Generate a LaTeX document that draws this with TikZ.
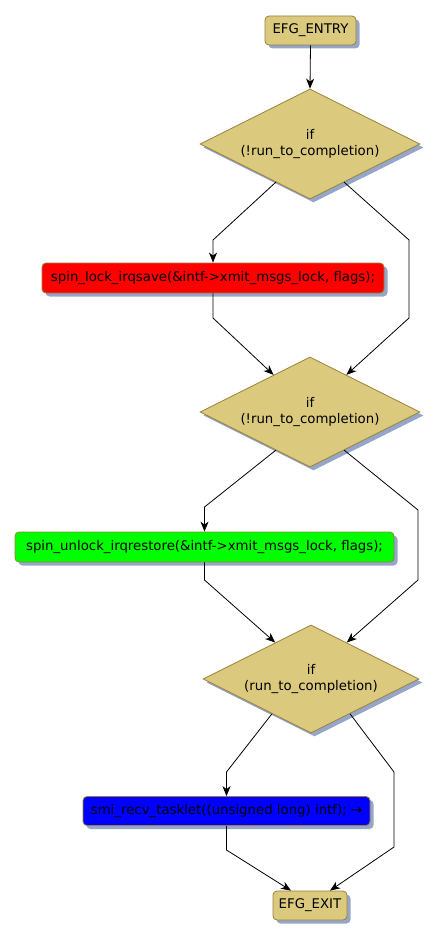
\documentclass[tikz,border=0pt]{standalone}
\usepackage{fontspec}
\setmainfont{DejaVu Sans}
\usetikzlibrary{shapes.geometric,shadows,arrows.meta,calc}
\definecolor{tanfill}{RGB}{219,201,126}
\definecolor{tanborder}{RGB}{152,128,56}
\definecolor{shadowblue}{RGB}{150,166,200}
\tikzset{
  txt/.style={font=\fontsize{13.3}{16.5}\selectfont},
  base/.style={draw=tanborder, line width=0.8pt, txt,
    drop shadow={shadow xshift=3.5pt, shadow yshift=-3.5pt, fill=shadowblue, opacity=1}},
  actbox/.style={base, rectangle, rounded corners=4pt, inner sep=2pt},
  decision/.style={base, diamond, fill=tanfill, inner sep=0pt},
  dlabel/.style={txt, align=center, inner sep=0pt},
  flow/.style={draw=black, line width=0.8pt, -{Stealth[length=10pt,width=8pt,inset=3pt]}}
}
\begin{document}
\begin{tikzpicture}[x=1pt,y=-1pt]
\useasboundingbox (0,0) rectangle (439,939);
\node[actbox, fill=tanfill, minimum width=91pt, minimum height=29pt] (entry) at (310.5,30.5) {EFG\_ENTRY};
\node[decision, minimum width=220pt, minimum height=110pt,
  label={[dlabel]center:if\\(!run\_to\_completion)}] (d1) at (310,144) {};
\node[actbox, fill=red, minimum width=342pt, minimum height=30pt] (red) at (213,278) {spin\_lock\_irqsave(\&intf->xmit\_msgs\_lock, flags);};
\node[decision, minimum width=220pt, minimum height=110pt,
  label={[dlabel]center:if\\(!run\_to\_completion)}] (d2) at (310,412) {};
\node[actbox, fill=green, minimum width=379pt, minimum height=30pt] (green) at (204.5,547) {spin\_unlock\_irqrestore(\&intf->xmit\_msgs\_lock, flags);};
\node[decision, minimum width=216pt, minimum height=108pt,
  label={[dlabel]center:if\\(run\_to\_completion)}] (d3) at (311,679) {};
\node[actbox, fill=blue, minimum width=287pt, minimum height=29pt] (blue) at (226.5,811) {smi\_recv\_tasklet((unsigned long) intf); →};
\node[actbox, fill=tanfill, minimum width=74pt, minimum height=29pt] (exit) at (310,905.5) {EFG\_EXIT};

\draw[flow] (entry.south) -- (d1.north);
\draw[flow] ($(d1.south)!0.31!(d1.west)$) -- (213,240) -- (red.north);
\draw[flow] ($(d1.south)!0.31!(d1.east)$) -- (409,240) -- (409,318) -- ($(d2.north)!0.33!(d2.east)$);
\draw[flow] (red.south) -- (213,318) -- ($(d2.north)!0.33!(d2.west)$);
\draw[flow] ($(d2.south)!0.31!(d2.west)$) -- (204.5,507) -- (green.north);
\draw[flow] ($(d2.south)!0.31!(d2.east)$) -- (418,510) -- (418,580) -- ($(d3.north)!0.33!(d3.east)$);
\draw[flow] (green.south) -- (204.5,580) -- ($(d3.north)!0.33!(d3.west)$);
\draw[flow] ($(d3.south)!0.36!(d3.west)$) -- (226.5,772) -- (blue.north);
\draw[flow] ($(d3.south)!0.36!(d3.east)$) -- (394,772) -- (394,847) -- ($(exit.north)+(20,0)$);
\draw[flow] (blue.south) -- (226.5,850) -- ($(exit.north)+(-19,0)$);
\end{tikzpicture}
\end{document}
